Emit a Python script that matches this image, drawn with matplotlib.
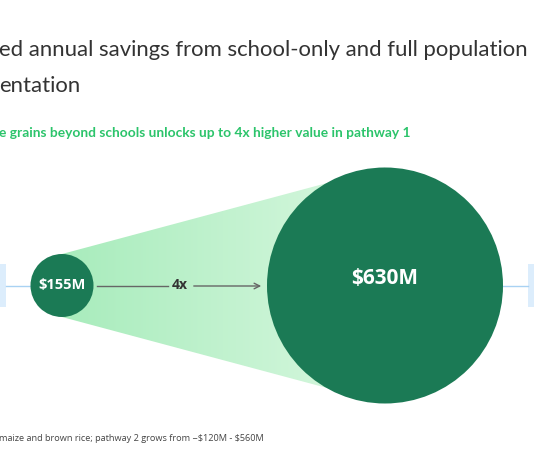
import numpy as np
import matplotlib
matplotlib.use("Agg")
import matplotlib.pyplot as plt
from matplotlib.patches import Circle, Polygon, Rectangle

# data
labels = [r"\$155M", r"\$630M"]
values = [155, 630]
multiplier = "4x"
title_lines = ["ed annual savings from school-only and full population",
               "entation"]
subtitle = "e grains beyond schools unlocks up to 4x higher value in pathway 1"
footnote = r"maize and brown rice; pathway 2 grows from ~\$120M - \$560M"

# layout (pixels, y down)
W, H = 534, 462
centers = [(62, 285.5), (385, 285.5)]
radii = [31.5, 118]
DARK = "#1b7a55"
BLUE_BOX = "#dcedfc"
BLUE_LINE = "#a9d2f3"

fig = plt.figure(figsize=(W / 100, H / 100), dpi=100)
ax = fig.add_axes([0, 0, 1, 1])
ax.set_xlim(0, W)
ax.set_ylim(H, 0)
ax.axis("off")

# cone between the two circles with horizontal gradient
(x0, y0), (x1, y1) = centers
r0, r1 = radii
cone = Polygon([(x0, y0 - r0), (x1, y1 - r1), (x1, y1 + r1), (x0, y0 + r0)],
               closed=True, facecolor="none", edgecolor="none")
ax.add_patch(cone)
grad = np.linspace(0, 1, 256).reshape(1, -1)
c_left = np.array([168, 236, 188]) / 255
c_right = np.array([218, 248, 225]) / 255
img = c_left[None, None, :] * (1 - grad[..., None]) + c_right[None, None, :] * grad[..., None]
im = ax.imshow(img, extent=[x0, x1, y1 + r1, y1 - r1], aspect="auto", zorder=1)
im.set_clip_path(cone)
ax.set_xlim(0, W)
ax.set_ylim(H, 0)

# side boxes and connectors
ax.add_patch(Rectangle((-4, 264), 10, 43, facecolor=BLUE_BOX, edgecolor="none", zorder=2))
ax.add_patch(Rectangle((528, 264), 10, 43, facecolor=BLUE_BOX, edgecolor="none", zorder=2))
ax.plot([6, x0 - r0], [286, 286], color=BLUE_LINE, lw=1, zorder=2)
ax.plot([x1 + r1, 528], [286, 286], color=BLUE_LINE, lw=1, zorder=2)

# circles
for (cx, cy), r, lab, fs, dy in zip(centers, radii, labels, [10.5, 15], [0, -7]):
    ax.add_patch(Circle((cx, cy), r, facecolor=DARK, edgecolor="none", zorder=3))
    ax.text(cx, cy + dy, lab, color="white", fontsize=fs, fontweight="bold",
            ha="center", va="center", family="Open Sans", zorder=4)

# arrow with multiplier label
mid = 180
ax.plot([x0 + r0 + 3, mid - 12], [286, 286], color="#666666", lw=1, zorder=2)
ax.annotate("", xy=(x1 - r1 - 3, 286), xytext=(mid + 11, 286),
            arrowprops=dict(arrowstyle="->", color="#666666", lw=1), zorder=2)
ax.text(mid, 285, multiplier, fontsize=10, fontweight="bold", color="#333333",
        ha="center", va="center", family="Open Sans")

# texts
ax.text(-1, 56, title_lines[0], fontsize=15.9, color="#333333", ha="left",
        va="baseline", family="Lato")
ax.text(-1, 92, title_lines[1], fontsize=15.9, color="#333333", ha="left",
        va="baseline", family="Lato")
ax.text(-1, 137, subtitle, fontsize=9.9, color="#2cc46b", ha="left",
        va="baseline", family="Lato", fontweight="bold")
ax.text(-1, 441, footnote, fontsize=6.6, color="#444444", ha="left",
        va="baseline", family="Open Sans")

fig.savefig("out.png", dpi=100, facecolor="white")
